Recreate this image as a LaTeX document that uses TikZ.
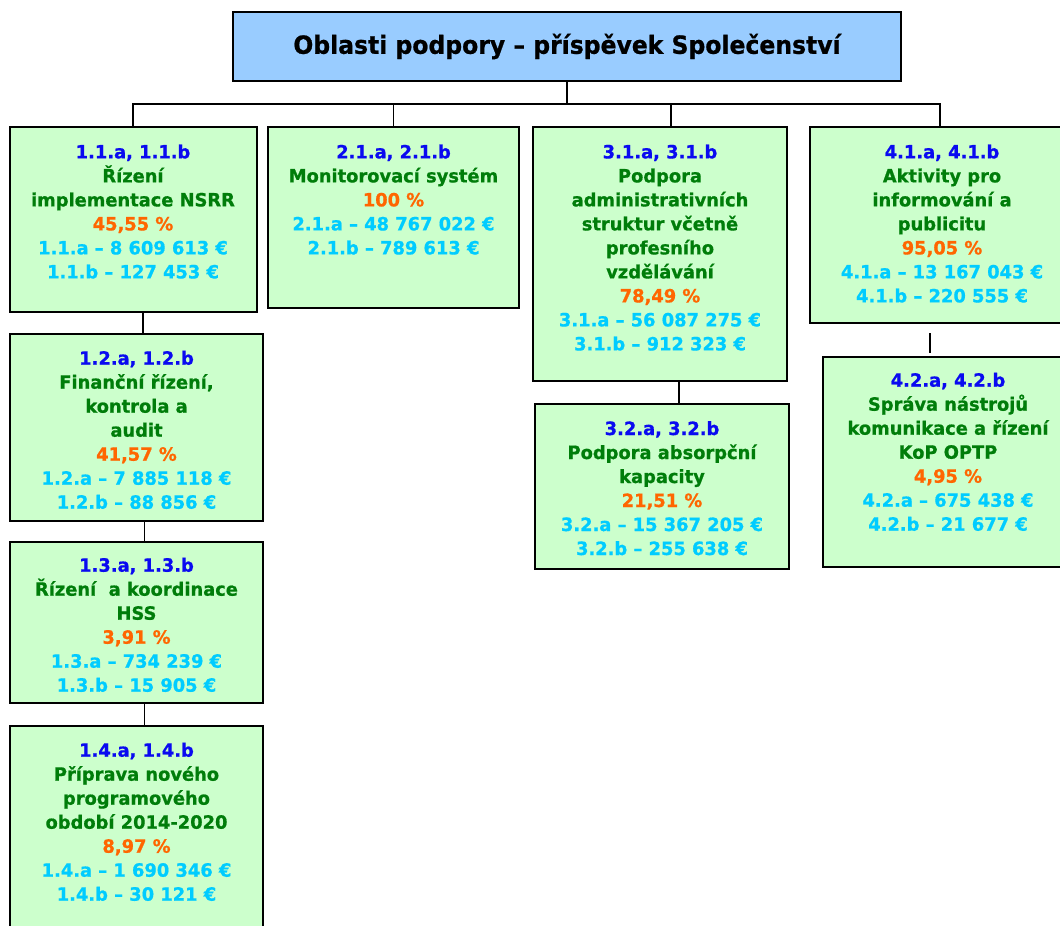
\documentclass[tikz,border=0pt]{standalone}
\usepackage{fontspec}
\usepackage{graphicx}
\setmainfont{DejaVu Sans}[FakeStretch=0.975,FakeBold=0.8]
\newfontfamily\titlefont{DejaVu Sans}[FakeStretch=0.94,FakeBold=0.8]
\definecolor{cblue}{RGB}{10,10,240}
\definecolor{cgreen}{RGB}{0,125,10}
\definecolor{corange}{RGB}{255,102,0}
\definecolor{ccyan}{RGB}{0,204,255}
\definecolor{boxgreen}{RGB}{204,255,204}
\definecolor{titleblue}{RGB}{153,204,255}
\newcommand{\codeln}[1]{\textcolor{cblue}{#1}}
\newcommand{\nameln}[1]{\textcolor{cgreen}{#1}}
\newcommand{\pctln}[1]{\textcolor{corange}{#1}}
\newcommand{\amtln}[1]{\textcolor{ccyan}{#1}}
\begin{document}
\begin{tikzpicture}[x=1pt,y=-1pt,
  gbox/.style={draw=black, line width=2pt, fill=boxgreen, inner sep=0pt, outer sep=0pt, anchor=north west},
  tbox/.style={draw=black, line width=2pt, fill=titleblue, inner sep=0pt, outer sep=0pt, anchor=north west},
  txt/.style={anchor=north, inner sep=0pt, align=center, font=\fontsize{18.3}{24}\selectfont\bfseries},
  conn/.style={draw=black, line width=1.6pt}]
\useasboundingbox (0,0) rectangle (1060,926);
\clip (0,0) rectangle (1060,926);
% title
\node[tbox, minimum width=668pt, minimum height=69pt] (t) at (233,12) {};
\node[inner sep=0pt, font=\titlefont\fontsize{25}{30}\selectfont\bfseries] (tt) at (567,46.5) {Oblasti podpory – příspěvek Společenství};
% boxes
\node[gbox, minimum width=247.5pt, minimum height=184.4pt] (b11) at (9.5,127.3) {};
\node[gbox, minimum width=251pt, minimum height=180.7pt] (b21) at (268,127.3) {};
\node[gbox, minimum width=253.5pt, minimum height=253.4pt] (b31) at (533,127.3) {};
\node[gbox, minimum width=264pt, minimum height=195.4pt] (b41) at (810,127.3) {};
\node[gbox, minimum width=253.4pt, minimum height=186.4pt] (b12) at (9.6,334.3) {};
\node[gbox, minimum width=253.4pt, minimum height=161.6pt] (b13) at (9.6,541.7) {};
\node[gbox, minimum width=253.4pt, minimum height=234pt] (b14) at (9.6,726) {};
\node[gbox, minimum width=253.6pt, minimum height=164.4pt] (b32) at (535,404.3) {};
\node[gbox, minimum width=250pt, minimum height=209.7pt] (b42) at (823,357) {};
% texts
\node[txt] (x11) at (133,144.3) {\codeln{1.1.a, 1.1.b}\\\nameln{Řízení}\\\nameln{implementace NSRR}\\\pctln{45,55 \%}\\\amtln{1.1.a – 8 609 613 €}\\\amtln{1.1.b – 127 453 €}};
\node[txt] (x21) at (393.5,144.3) {\codeln{2.1.a, 2.1.b}\\\nameln{Monitorovací systém}\\\pctln{100 \%}\\\amtln{2.1.a – 48 767 022 €}\\\amtln{2.1.b – 789 613 €}};
\node[txt] (x31) at (660,144.3) {\codeln{3.1.a, 3.1.b}\\\nameln{Podpora}\\\nameln{administrativních}\\\nameln{struktur včetně}\\\nameln{profesního}\\\nameln{vzdělávání}\\\pctln{78,49 \%}\\\amtln{3.1.a – 56 087 275 €}\\\amtln{3.1.b – 912 323 €}};
\node[txt] (x41) at (942,144.3) {\codeln{4.1.a, 4.1.b}\\\nameln{Aktivity pro}\\\nameln{informování a}\\\nameln{publicitu}\\\pctln{95,05 \%}\\\amtln{4.1.a – 13 167 043 €}\\\amtln{4.1.b – 220 555 €}};
\node[txt] (x12) at (136.5,350.6) {\codeln{1.2.a, 1.2.b}\\\nameln{Finanční řízení,}\\\nameln{kontrola a}\\\nameln{audit}\\\pctln{41,57 \%}\\\amtln{1.2.a – 7 885 118 €}\\\amtln{1.2.b – 88 856 €}};
\node[txt] (x13) at (136.5,557.6) {\codeln{1.3.a, 1.3.b}\\\nameln{Řízení\ \ a koordinace}\\\nameln{HSS}\\\pctln{3,91 \%}\\\amtln{1.3.a – 734 239 €}\\\amtln{1.3.b – 15 905 €}};
\node[txt] (x14) at (136.5,742.6) {\codeln{1.4.a, 1.4.b}\\\nameln{Příprava nového}\\\nameln{programového}\\\nameln{období 2014-2020}\\\pctln{8,97 \%}\\\amtln{1.4.a – 1 690 346 €}\\\amtln{1.4.b – 30 121 €}};
\node[txt] (x32) at (662,420.9) {\codeln{3.2.a, 3.2.b}\\\nameln{Podpora absorpční}\\\nameln{kapacity}\\\pctln{21,51 \%}\\\amtln{3.2.a – 15 367 205 €}\\\amtln{3.2.b – 255 638 €}};
\node[txt] (x42) at (948,372.6) {\codeln{4.2.a, 4.2.b}\\\nameln{Správa nástrojů}\\\nameln{komunikace a řízení}\\\nameln{KoP OPTP}\\\pctln{4,95 \%}\\\amtln{4.2.a – 675 438 €}\\\amtln{4.2.b – 21 677 €}};
% connectors
\coordinate (hub) at (567,104);
\coordinate (d3) at (671,127.3);
\coordinate (d4) at (940,127.3);
\coordinate (c1) at (143,0);
\coordinate (c2) at (144.5,0);
\coordinate (c3) at (679,0);
\coordinate (f1) at (930,333);
\coordinate (f2) at (930,352.7);
\draw[conn] (t.south) -- (hub);
\draw[conn] (b11.north) |- (hub) -| (d4);
\draw[conn] (b21.north) -- (b21.north |- hub);
\draw[conn] (d3) -- (d3 |- hub);
\draw[conn] (c1 |- b11.south) -- (c1 |- b12.north);
\draw[conn] (c2 |- b12.south) -- (c2 |- b13.north);
\draw[conn] (c2 |- b13.south) -- (c2 |- b14.north);
\draw[conn] (c3 |- b31.south) -- (c3 |- b32.north);
\draw[conn] (f1) -- (f2);
\end{tikzpicture}
\end{document}
